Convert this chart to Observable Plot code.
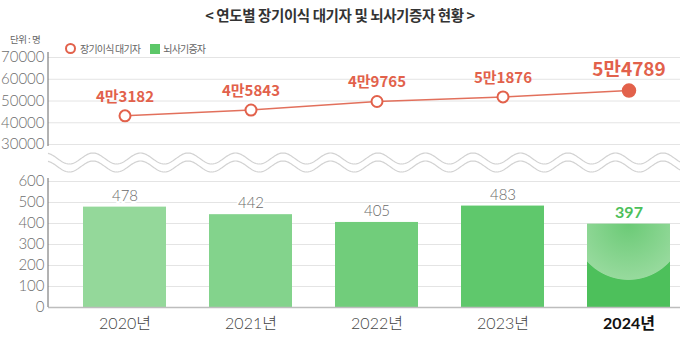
<!DOCTYPE html>
<html>
<head>
<meta charset="utf-8">
<script src="https://cdn.jsdelivr.net/npm/d3@7"></script>
<script src="https://cdn.jsdelivr.net/npm/@observablehq/plot@0.6"></script>
<style>
  html, body { margin: 0; padding: 0; background: #fff; }
  #wrap { position: relative; width: 680px; height: 338px; overflow: hidden; font-family: "Noto Sans CJK KR", "Noto Sans", sans-serif; }
  #wrap svg { position: absolute; left: 0; top: 0; }
  .title { position: absolute; left: 0; width: 680px; top: 4px; text-align: center; font-size: 14.5px; font-weight: 700; color: #333; letter-spacing: -0.4px; }
  .unit { position: absolute; left: 10px; top: 32px; font-size: 9.5px; color: #666; letter-spacing: -0.5px; }
  .legend { position: absolute; left: 65px; top: 41px; font-size: 10px; color: #666; display: flex; align-items: center; letter-spacing: -0.8px; }
  .legend .c { width: 7px; height: 7px; border: 2px solid #e2614b; border-radius: 50%; margin-right: 4px; }
  .legend .s { width: 10px; height: 10px; background: #5cc768; margin-left: 10px; margin-right: 3px; }
</style>
</head>
<body>
<div id="wrap">
  <div class="title">&lt; 연도별 장기이식 대기자 및 뇌사기증자 현황 &gt;</div>
  <div class="unit">단위 : 명</div>
  <div class="legend"><span class="c"></span><span>장기이식 대기자</span><span class="s"></span><span>뇌사기증자</span></div>
</div>
<script>
const years = ["2020", "2021", "2022", "2023", "2024"];
const waiting = [43182, 45843, 49765, 51876, 54789];
const donors = [478, 442, 405, 483, 397];
const barColors = ["#94d89a", "#83d38c", "#71cd7b", "#5fc86c", "url(#g2024)"];
const yTicks = [0, 100, 200, 300, 400, 500, 600, 30000, 40000, 50000, 60000, 70000];

// broken axis: map real values to a continuous "virtual" axis (lower 0–600, upper 30000–70000)
const brk = d3.scaleLinear().domain([0, 600, 30000, 70000]).range([0, 126, 163, 250]);

const data = years.map((y, i) => ({year: y, waiting: waiting[i], donors: donors[i], color: barColors[i]}));
const past = data.slice(0, 4);
const last = data.slice(4);
const fmtMan = v => `${Math.floor(v / 10000)}만${v % 10000}`;
const tickLabel = new Map(yTicks.map(t => [brk(t), `${t}`]));

const red = "#e2614b";
const plot = Plot.plot({
  width: 680,
  height: 338,
  marginLeft: 48,
  marginRight: 0,
  marginTop: 57,
  marginBottom: 31,
  style: {fontFamily: "Lato, 'Noto Sans CJK KR', sans-serif", background: "transparent"},
  x: {domain: years, range: [60, 692], paddingInner: 0.344, paddingOuter: 0.172, axis: null},
  y: {domain: [0, 250], axis: null},
  color: {type: "identity"},
  marks: [
    Plot.gridY(yTicks.map(brk), {stroke: "#e4e4e4", strokeOpacity: 1}),
    Plot.axisY({ticks: yTicks.map(brk), tickSize: 0, tickPadding: 4, fontSize: 15, fontWeight: 300, fill: "#6e6e6e", tickFormat: v => tickLabel.get(v), label: null}),
    Plot.barY(data, {x: "year", y: d => brk(d.donors), fill: "color"}),
    Plot.ruleY([0], {stroke: "#bdbdbd", strokeWidth: 1.5}),
    Plot.text(past, {x: "year", y: d => brk(d.donors), text: d => `${d.donors}`, dy: -11, fontSize: 15, fontWeight: 300, fill: "#6a6a6a", stroke: "white", strokeWidth: 4}),
    Plot.text(last, {x: "year", y: d => brk(d.donors), text: d => `${d.donors}`, dy: -11, fontSize: 16, fontWeight: "bold", fill: "#4cc05a"}),
    Plot.line(data, {x: "year", y: d => brk(d.waiting), stroke: "#e2705c", strokeWidth: 1.5}),
    Plot.dot(past, {x: "year", y: d => brk(d.waiting), r: 5.5, stroke: red, strokeWidth: 2, fill: "white"}),
    Plot.dot(last, {x: "year", y: d => brk(d.waiting), r: 6.5, fill: red, stroke: red}),
    Plot.text(past, {x: "year", y: d => brk(d.waiting), text: d => fmtMan(d.waiting), dy: -19, fontSize: 15, fontWeight: "bold", fill: red, fontFamily: "'Noto Sans CJK KR', sans-serif", letterSpacing: "-0.5px"}),
    Plot.text(last, {x: "year", y: d => brk(d.waiting), text: d => fmtMan(d.waiting), dy: -21, fontSize: 19, fontWeight: "bold", fill: red, fontFamily: "'Noto Sans CJK KR', sans-serif", letterSpacing: "-0.5px"}),
    Plot.text(past, {x: "year", frameAnchor: "bottom", text: d => `${d.year}년`, dy: 21, fontSize: 16, fontWeight: 300, fill: "#444"}),
    Plot.text(last, {x: "year", frameAnchor: "bottom", text: d => `${d.year}년`, dy: 21, fontSize: 16, fontWeight: "bold", fill: "#111"})
  ]
});

// gradient for the highlighted 2024 bar
const svg = d3.select(plot);
svg.insert("defs", ":first-child").html(`
  <radialGradient id="g2024" cx="0.5" cy="0" r="0.68" gradientUnits="objectBoundingBox">
    <stop offset="0" stop-color="#6bca76"/>
    <stop offset="0.985" stop-color="#97da9d"/>
    <stop offset="1" stop-color="#4dc05b"/>
  </radialGradient>`);

// axis line with break and wavy break band
const ys = plot.scale("y");
const yTop = 52, yBot = ys.apply(brk(0));
const yHi = ys.apply(brk(30000)), yLo = ys.apply(brk(600));
const deco = svg.append("g");
deco.append("line").attr("x1", 48).attr("x2", 48).attr("y1", yTop).attr("y2", yHi + 2).attr("stroke", "#666");
deco.append("line").attr("x1", 48).attr("x2", 48).attr("y1", yLo - 3).attr("y2", yBot).attr("stroke", "#666");
const mid = (yHi + yLo) / 2;
for (const off of [-4, 4]) {
  const pts = d3.range(48, 681, 1).map(x => [x, mid + off - 5.5 * Math.cos(2 * Math.PI * (x - 93) / 47.5)]);
  deco.append("path").attr("d", d3.line()(pts)).attr("fill", "none").attr("stroke", "#d2d2d2").attr("stroke-width", 1.2);
}

document.getElementById("wrap").appendChild(plot);
</script>
</body>
</html>
